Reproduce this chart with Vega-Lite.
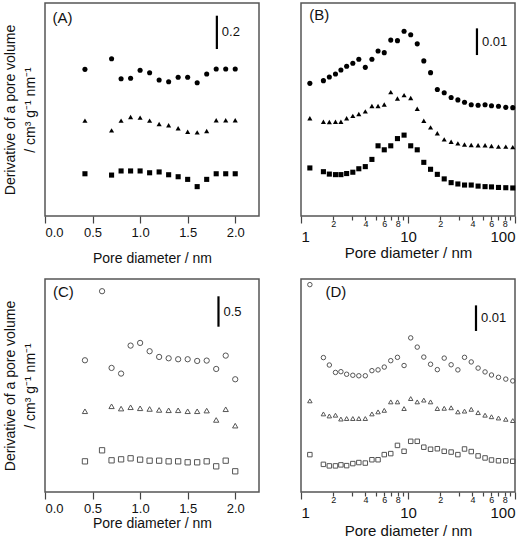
{
  "$schema": "https://vega.github.io/schema/vega-lite/v6.json",
  "background": "white",
  "autosize": {"type": "pad"},
  "padding": {"left": 2, "top": 2, "right": 4, "bottom": 2},
  "config": {
    "view": {"stroke": "#555", "strokeWidth": 1.5},
    "font": "Liberation Sans",
    "axis": {"domain": false, "grid": false, "tickColor": "#444", "tickWidth": 1.2, "labelColor": "#111", "titleColor": "#111", "labelFont": "Liberation Sans", "titleFont": "Liberation Sans", "titleFontWeight": "normal"},
    "text": {"font": "Liberation Sans", "color": "#111"}
  },
  "columns": 2,
  "spacing": {"row": 63, "column": 42},
  "bounds": "flush",
  "datasets": {
    "A": [
      {"x":0.42,"y":0.889,"s":"c"},{"x":0.7,"y":0.953,"s":"c"},{"x":0.8,"y":0.832,"s":"c"},{"x":0.9,"y":0.835,"s":"c"},{"x":1.0,"y":0.883,"s":"c"},{"x":1.1,"y":0.868,"s":"c"},{"x":1.2,"y":0.824,"s":"c"},{"x":1.3,"y":0.814,"s":"c"},{"x":1.4,"y":0.841,"s":"c"},{"x":1.5,"y":0.841,"s":"c"},{"x":1.6,"y":0.808,"s":"c"},{"x":1.7,"y":0.861,"s":"c"},{"x":1.8,"y":0.891,"s":"c"},{"x":1.9,"y":0.891,"s":"c"},{"x":2.0,"y":0.891,"s":"c"},
      {"x":0.42,"y":0.578,"s":"t"},{"x":0.7,"y":0.519,"s":"t"},{"x":0.8,"y":0.578,"s":"t"},{"x":0.9,"y":0.600,"s":"t"},{"x":1.0,"y":0.596,"s":"t"},{"x":1.1,"y":0.578,"s":"t"},{"x":1.2,"y":0.558,"s":"t"},{"x":1.3,"y":0.550,"s":"t"},{"x":1.4,"y":0.532,"s":"t"},{"x":1.5,"y":0.511,"s":"t"},{"x":1.6,"y":0.507,"s":"t"},{"x":1.7,"y":0.515,"s":"t"},{"x":1.8,"y":0.580,"s":"t"},{"x":1.9,"y":0.580,"s":"t"},{"x":2.0,"y":0.580,"s":"t"},
      {"x":0.42,"y":0.256,"s":"q"},{"x":0.7,"y":0.248,"s":"q"},{"x":0.8,"y":0.273,"s":"q"},{"x":0.9,"y":0.273,"s":"q"},{"x":1.0,"y":0.273,"s":"q"},{"x":1.1,"y":0.262,"s":"q"},{"x":1.2,"y":0.267,"s":"q"},{"x":1.3,"y":0.250,"s":"q"},{"x":1.4,"y":0.238,"s":"q"},{"x":1.5,"y":0.222,"s":"q"},{"x":1.6,"y":0.178,"s":"q"},{"x":1.7,"y":0.222,"s":"q"},{"x":1.8,"y":0.256,"s":"q"},{"x":1.9,"y":0.256,"s":"q"},{"x":2.0,"y":0.256,"s":"q"}
    ],
    "B": [
      {"x":1.21,"y":0.0497,"s":"c"},{"x":1.62,"y":0.0507,"s":"c"},{"x":1.84,"y":0.0521,"s":"c"},{"x":2.1,"y":0.0532,"s":"c"},{"x":2.36,"y":0.0547,"s":"c"},{"x":2.67,"y":0.0561,"s":"c"},{"x":3.05,"y":0.0572,"s":"c"},{"x":3.47,"y":0.0587,"s":"c"},{"x":3.99,"y":0.0557,"s":"c"},{"x":4.6,"y":0.0587,"s":"c"},{"x":5.25,"y":0.0618,"s":"c"},{"x":6.0,"y":0.0612,"s":"c"},{"x":6.9,"y":0.0659,"s":"c"},{"x":7.97,"y":0.0657,"s":"c"},{"x":9.19,"y":0.0692,"s":"c"},{"x":10.6,"y":0.0679,"s":"c"},{"x":12.2,"y":0.0645,"s":"c"},{"x":14.05,"y":0.0581,"s":"c"},{"x":16.25,"y":0.0537,"s":"c"},{"x":18.8,"y":0.0474,"s":"c"},{"x":21.8,"y":0.0462,"s":"c"},{"x":25.3,"y":0.0444,"s":"c"},{"x":29.25,"y":0.0435,"s":"c"},{"x":33.75,"y":0.0426,"s":"c"},{"x":39.0,"y":0.0417,"s":"c"},{"x":45.2,"y":0.0415,"s":"c"},{"x":52.5,"y":0.0417,"s":"c"},{"x":60.3,"y":0.0413,"s":"c"},{"x":70.1,"y":0.0411,"s":"c"},{"x":82.0,"y":0.0407,"s":"c"},{"x":95.3,"y":0.0406,"s":"c"},
      {"x":1.21,"y":0.0366,"s":"t"},{"x":1.62,"y":0.0353,"s":"t"},{"x":1.84,"y":0.0352,"s":"t"},{"x":2.1,"y":0.0353,"s":"t"},{"x":2.36,"y":0.0353,"s":"t"},{"x":2.67,"y":0.0366,"s":"t"},{"x":3.05,"y":0.0375,"s":"t"},{"x":3.47,"y":0.0382,"s":"t"},{"x":3.99,"y":0.0392,"s":"t"},{"x":4.6,"y":0.0412,"s":"t"},{"x":5.25,"y":0.0412,"s":"t"},{"x":6.0,"y":0.0418,"s":"t"},{"x":6.9,"y":0.0464,"s":"t"},{"x":7.97,"y":0.0440,"s":"t"},{"x":9.19,"y":0.0453,"s":"t"},{"x":10.6,"y":0.0442,"s":"t"},{"x":12.2,"y":0.0402,"s":"t"},{"x":14.05,"y":0.0357,"s":"t"},{"x":16.25,"y":0.0332,"s":"t"},{"x":18.8,"y":0.0310,"s":"t"},{"x":21.8,"y":0.0287,"s":"t"},{"x":25.3,"y":0.0278,"s":"t"},{"x":29.25,"y":0.0272,"s":"t"},{"x":33.75,"y":0.0268,"s":"t"},{"x":39.0,"y":0.0266,"s":"t"},{"x":45.2,"y":0.0265,"s":"t"},{"x":52.5,"y":0.0265,"s":"t"},{"x":60.3,"y":0.0262,"s":"t"},{"x":70.1,"y":0.0260,"s":"t"},{"x":82.0,"y":0.0260,"s":"t"},{"x":95.3,"y":0.0258,"s":"t"},
      {"x":1.21,"y":0.0180,"s":"q"},{"x":1.62,"y":0.0166,"s":"q"},{"x":1.84,"y":0.0157,"s":"q"},{"x":2.1,"y":0.0155,"s":"q"},{"x":2.36,"y":0.0155,"s":"q"},{"x":2.67,"y":0.0159,"s":"q"},{"x":3.05,"y":0.0164,"s":"q"},{"x":3.47,"y":0.0177,"s":"q"},{"x":3.99,"y":0.0185,"s":"q"},{"x":4.6,"y":0.0212,"s":"q"},{"x":5.25,"y":0.0263,"s":"q"},{"x":6.0,"y":0.0248,"s":"q"},{"x":6.9,"y":0.0263,"s":"q"},{"x":7.97,"y":0.0290,"s":"q"},{"x":9.19,"y":0.0303,"s":"q"},{"x":10.6,"y":0.0263,"s":"q"},{"x":12.2,"y":0.0248,"s":"q"},{"x":14.05,"y":0.0201,"s":"q"},{"x":16.25,"y":0.0175,"s":"q"},{"x":18.8,"y":0.0156,"s":"q"},{"x":21.8,"y":0.0139,"s":"q"},{"x":25.3,"y":0.0125,"s":"q"},{"x":29.25,"y":0.0120,"s":"q"},{"x":33.75,"y":0.0116,"s":"q"},{"x":39.0,"y":0.0116,"s":"q"},{"x":45.2,"y":0.0112,"s":"q"},{"x":52.5,"y":0.0110,"s":"q"},{"x":60.3,"y":0.0109,"s":"q"},{"x":70.1,"y":0.0107,"s":"q"},{"x":82.0,"y":0.0106,"s":"q"},{"x":95.3,"y":0.0105,"s":"q"}
    ],
    "C": [
      {"x":0.42,"y":2.170,"s":"c"},{"x":0.6,"y":3.308,"s":"c"},{"x":0.7,"y":2.044,"s":"c"},{"x":0.8,"y":1.951,"s":"c"},{"x":0.9,"y":2.412,"s":"c"},{"x":1.0,"y":2.456,"s":"c"},{"x":1.1,"y":2.319,"s":"c"},{"x":1.2,"y":2.225,"s":"c"},{"x":1.3,"y":2.203,"s":"c"},{"x":1.4,"y":2.187,"s":"c"},{"x":1.5,"y":2.187,"s":"c"},{"x":1.6,"y":2.159,"s":"c"},{"x":1.7,"y":2.165,"s":"c"},{"x":1.8,"y":2.027,"s":"c"},{"x":1.9,"y":2.247,"s":"c"},{"x":2.0,"y":1.857,"s":"c"},
      {"x":0.42,"y":1.330,"s":"t"},{"x":0.7,"y":1.412,"s":"t"},{"x":0.8,"y":1.374,"s":"t"},{"x":0.9,"y":1.396,"s":"t"},{"x":1.0,"y":1.379,"s":"t"},{"x":1.1,"y":1.368,"s":"t"},{"x":1.2,"y":1.352,"s":"t"},{"x":1.3,"y":1.346,"s":"t"},{"x":1.4,"y":1.346,"s":"t"},{"x":1.5,"y":1.330,"s":"t"},{"x":1.6,"y":1.330,"s":"t"},{"x":1.7,"y":1.341,"s":"t"},{"x":1.8,"y":1.187,"s":"t"},{"x":1.9,"y":1.363,"s":"t"},{"x":2.0,"y":1.093,"s":"t"},
      {"x":0.42,"y":0.505,"s":"q"},{"x":0.6,"y":0.687,"s":"q"},{"x":0.7,"y":0.522,"s":"q"},{"x":0.8,"y":0.538,"s":"q"},{"x":0.9,"y":0.555,"s":"q"},{"x":1.0,"y":0.533,"s":"q"},{"x":1.1,"y":0.516,"s":"q"},{"x":1.2,"y":0.516,"s":"q"},{"x":1.3,"y":0.505,"s":"q"},{"x":1.4,"y":0.505,"s":"q"},{"x":1.5,"y":0.489,"s":"q"},{"x":1.6,"y":0.489,"s":"q"},{"x":1.7,"y":0.505,"s":"q"},{"x":1.8,"y":0.423,"s":"q"},{"x":1.9,"y":0.516,"s":"q"},{"x":2.0,"y":0.341,"s":"q"}
    ],
    "D": [
      {"x":1.21,"y":0.0810,"s":"c"},{"x":1.62,"y":0.0525,"s":"c"},{"x":1.84,"y":0.0496,"s":"c"},{"x":2.1,"y":0.0467,"s":"c"},{"x":2.36,"y":0.0470,"s":"c"},{"x":2.67,"y":0.0460,"s":"c"},{"x":3.05,"y":0.0456,"s":"c"},{"x":3.47,"y":0.0454,"s":"c"},{"x":3.99,"y":0.0454,"s":"c"},{"x":4.6,"y":0.0474,"s":"c"},{"x":5.25,"y":0.0477,"s":"c"},{"x":6.0,"y":0.0488,"s":"c"},{"x":6.9,"y":0.0513,"s":"c"},{"x":7.97,"y":0.0526,"s":"c"},{"x":9.19,"y":0.0494,"s":"c"},{"x":10.6,"y":0.0602,"s":"c"},{"x":12.2,"y":0.0566,"s":"c"},{"x":14.05,"y":0.0527,"s":"c"},{"x":16.25,"y":0.0499,"s":"c"},{"x":18.8,"y":0.0478,"s":"c"},{"x":21.8,"y":0.0523,"s":"c"},{"x":25.3,"y":0.0497,"s":"c"},{"x":29.25,"y":0.0477,"s":"c"},{"x":33.75,"y":0.0526,"s":"c"},{"x":39.0,"y":0.0508,"s":"c"},{"x":45.2,"y":0.0484,"s":"c"},{"x":52.5,"y":0.0469,"s":"c"},{"x":60.3,"y":0.0457,"s":"c"},{"x":70.1,"y":0.0448,"s":"c"},{"x":82.0,"y":0.0441,"s":"c"},{"x":95.3,"y":0.0434,"s":"c"},
      {"x":1.21,"y":0.0356,"s":"t"},{"x":1.62,"y":0.0305,"s":"t"},{"x":1.84,"y":0.0297,"s":"t"},{"x":2.1,"y":0.0300,"s":"t"},{"x":2.36,"y":0.0285,"s":"t"},{"x":2.67,"y":0.0287,"s":"t"},{"x":3.05,"y":0.0287,"s":"t"},{"x":3.47,"y":0.0287,"s":"t"},{"x":3.99,"y":0.0287,"s":"t"},{"x":4.6,"y":0.0305,"s":"t"},{"x":5.25,"y":0.0313,"s":"t"},{"x":6.0,"y":0.0319,"s":"t"},{"x":6.9,"y":0.0352,"s":"t"},{"x":7.97,"y":0.0352,"s":"t"},{"x":9.19,"y":0.0326,"s":"t"},{"x":10.6,"y":0.0365,"s":"t"},{"x":12.2,"y":0.0352,"s":"t"},{"x":14.05,"y":0.0359,"s":"t"},{"x":16.25,"y":0.0352,"s":"t"},{"x":18.8,"y":0.0326,"s":"t"},{"x":21.8,"y":0.0327,"s":"t"},{"x":25.3,"y":0.0329,"s":"t"},{"x":29.25,"y":0.0313,"s":"t"},{"x":33.75,"y":0.0316,"s":"t"},{"x":39.0,"y":0.0323,"s":"t"},{"x":45.2,"y":0.0310,"s":"t"},{"x":52.5,"y":0.0300,"s":"t"},{"x":60.3,"y":0.0294,"s":"t"},{"x":70.1,"y":0.0289,"s":"t"},{"x":82.0,"y":0.0284,"s":"t"},{"x":95.3,"y":0.0279,"s":"t"},
      {"x":1.21,"y":0.0146,"s":"q"},{"x":1.62,"y":0.0108,"s":"q"},{"x":1.84,"y":0.0102,"s":"q"},{"x":2.1,"y":0.0102,"s":"q"},{"x":2.36,"y":0.0106,"s":"q"},{"x":2.67,"y":0.0103,"s":"q"},{"x":3.05,"y":0.0111,"s":"q"},{"x":3.47,"y":0.0115,"s":"q"},{"x":3.99,"y":0.0113,"s":"q"},{"x":4.6,"y":0.0126,"s":"q"},{"x":5.25,"y":0.0126,"s":"q"},{"x":6.0,"y":0.0146,"s":"q"},{"x":6.9,"y":0.0150,"s":"q"},{"x":7.97,"y":0.0182,"s":"q"},{"x":9.19,"y":0.0159,"s":"q"},{"x":10.6,"y":0.0198,"s":"q"},{"x":12.2,"y":0.0198,"s":"q"},{"x":14.05,"y":0.0175,"s":"q"},{"x":16.25,"y":0.0167,"s":"q"},{"x":18.8,"y":0.0169,"s":"q"},{"x":21.8,"y":0.0159,"s":"q"},{"x":25.3,"y":0.0156,"s":"q"},{"x":29.25,"y":0.0146,"s":"q"},{"x":33.75,"y":0.0168,"s":"q"},{"x":39.0,"y":0.0158,"s":"q"},{"x":45.2,"y":0.0141,"s":"q"},{"x":52.5,"y":0.0133,"s":"q"},{"x":60.3,"y":0.0125,"s":"q"},{"x":70.1,"y":0.0122,"s":"q"},{"x":82.0,"y":0.0122,"s":"q"},{"x":95.3,"y":0.0120,"s":"q"}
    ],
    "barA": [{"x":1.807,"y":1.012,"y2":1.214,"label":"0.2"}],
    "barB": [{"x":44.1,"y":0.0603,"y2":0.0703,"label":"0.01"}],
    "barC": [{"x":1.824,"y":2.723,"y2":3.224,"label":"0.5"}],
    "barD": [{"x":43.2,"y":0.0629,"y2":0.0729,"label":"0.01"}],
    "labA": [{"x":0.08,"y":1.2,"label":"(A)"}],
    "labB": [{"x":1.195,"y":0.0753,"label":"(B)"}],
    "labC": [{"x":0.084,"y":3.295,"label":"(C)"}],
    "labD": [{"x":1.69,"y":0.0781,"label":"(D)"}]
  },
  "concat": [
    {
      "width": 214, "height": 213,
      "layer": [
        {
          "data": {"name": "A"},
          "mark": {"type": "point", "filled": true, "size": 26, "color": "black", "opacity": 1},
          "encoding": {
            "x": {"field": "x", "type": "quantitative", "scale": {"domain": [0, 2.25], "nice": false, "zero": false},
              "axis": {"title": "Pore diameter / nm", "titleFontSize": 14, "titlePadding": 12, "values": [0,0.25,0.5,0.75,1,1.25,1.5,1.75,2,2.25], "labelExpr": "abs(datum.value*2-round(datum.value*2))<0.01 ? format(datum.value,'.1f') : ''", "labelFontSize": 13, "labelPadding": 3, "tickSize": {"condition": {"test": "abs(datum.value*2-round(datum.value*2))<0.01", "value": 7}, "value": 4}}},
            "y": {"field": "y", "type": "quantitative", "scale": {"domain": [0, 1.291], "nice": false, "zero": false},
              "axis": {"title": ["Derivative of a pore volume", "/ cm³ g⁻¹ nm⁻¹"], "titleFontSize": 14, "titleLineHeight": 20, "titlePadding": 8, "labels": false, "ticks": false, "domain": false}},
            "shape": {"field": "s", "type": "nominal", "scale": {"domain": ["c","t","q"], "range": ["circle","triangle-up","square"]}, "legend": null}
          }
        },
        {"data": {"name": "barA"}, "mark": {"type": "rule", "strokeWidth": 2.2, "color": "black"},
          "encoding": {"x": {"field": "x", "type": "quantitative"}, "y": {"field": "y", "type": "quantitative"}, "y2": {"field": "y2"}}},
        {"data": {"name": "barA"}, "transform": [{"calculate": "(datum.y+datum.y2)/2", "as": "ym"}], "mark": {"type": "text", "align": "left", "baseline": "middle", "dx": 5, "fontSize": 13},
          "encoding": {"x": {"field": "x", "type": "quantitative"}, "y": {"field": "ym", "type": "quantitative"}, "text": {"field": "label"}}},
        {"data": {"name": "labA"}, "mark": {"type": "text", "align": "left", "baseline": "middle", "fontSize": 15},
          "encoding": {"x": {"field": "x", "type": "quantitative"}, "y": {"field": "y", "type": "quantitative"}, "text": {"field": "label"}}}
      ]
    },
    {
      "width": 214, "height": 213,
      "layer": [
        {
          "data": {"name": "B"},
          "mark": {"type": "point", "filled": true, "size": 26, "color": "black", "opacity": 1},
          "encoding": {
            "x": {"field": "x", "type": "quantitative", "scale": {"type": "log", "domain": [1, 100], "nice": false},
              "axis": {"title": "Pore diameter / nm", "titleFontSize": 15, "titlePadding": 1, "values": [1,2,3,4,5,6,7,8,9,10,20,30,40,50,60,70,80,90,100],
                "labelExpr": "(datum.value==1||datum.value==10||datum.value==100) ? ''+datum.value : (indexof([2,4,6,8],datum.value)>=0 ? ''+datum.value : (indexof([20,40,60,80],datum.value)>=0 ? ''+(datum.value/10) : ''))",
                "labelFontSize": {"condition": {"test": "datum.value==1||datum.value==10||datum.value==100", "value": 15}, "value": 9},
                "labelBaseline": {"condition": {"test": "datum.value==1||datum.value==10||datum.value==100", "value": "top"}, "value": "alphabetic"},
                "labelPadding": 6,
                "tickSize": {"condition": {"test": "datum.value==1||datum.value==10||datum.value==100", "value": 7}, "value": 4}}},
            "y": {"field": "y", "type": "quantitative", "scale": {"domain": [0, 0.0798], "nice": false, "zero": false}, "axis": null},
            "shape": {"field": "s", "type": "nominal", "scale": {"domain": ["c","t","q"], "range": ["circle","triangle-up","square"]}, "legend": null}
          }
        },
        {"data": {"name": "barB"}, "mark": {"type": "rule", "strokeWidth": 2.2, "color": "black"},
          "encoding": {"x": {"field": "x", "type": "quantitative"}, "y": {"field": "y", "type": "quantitative"}, "y2": {"field": "y2"}}},
        {"data": {"name": "barB"}, "transform": [{"calculate": "(datum.y+datum.y2)/2", "as": "ym"}], "mark": {"type": "text", "align": "left", "baseline": "middle", "dx": 5, "fontSize": 13},
          "encoding": {"x": {"field": "x", "type": "quantitative"}, "y": {"field": "ym", "type": "quantitative"}, "text": {"field": "label"}}},
        {"data": {"name": "labB"}, "mark": {"type": "text", "align": "left", "baseline": "middle", "fontSize": 15},
          "encoding": {"x": {"field": "x", "type": "quantitative"}, "y": {"field": "y", "type": "quantitative"}, "text": {"field": "label"}}}
      ]
    },
    {
      "width": 214, "height": 213,
      "layer": [
        {
          "data": {"name": "C"},
          "mark": {"type": "point", "filled": false, "size": 28, "stroke": "#555", "strokeWidth": 1, "opacity": 1},
          "encoding": {
            "x": {"field": "x", "type": "quantitative", "scale": {"domain": [0, 2.25], "nice": false, "zero": false},
              "axis": {"title": "Pore diameter / nm", "titleFontSize": 14, "titlePadding": 1, "values": [0,0.25,0.5,0.75,1,1.25,1.5,1.75,2,2.25], "labelExpr": "abs(datum.value*2-round(datum.value*2))<0.01 ? format(datum.value,'.1f') : ''", "labelFontSize": 13, "labelPadding": 3, "tickSize": {"condition": {"test": "abs(datum.value*2-round(datum.value*2))<0.01", "value": 7}, "value": 4}}},
            "y": {"field": "y", "type": "quantitative", "scale": {"domain": [0, 3.509], "nice": false, "zero": false},
              "axis": {"title": ["Derivative of a pore volume", "/ cm³ g⁻¹ nm⁻¹"], "titleFontSize": 14, "titleLineHeight": 20, "titlePadding": 8, "labels": false, "ticks": false, "domain": false}},
            "shape": {"field": "s", "type": "nominal", "scale": {"domain": ["c","t","q"], "range": ["circle","triangle-up","square"]}, "legend": null}
          }
        },
        {"data": {"name": "barC"}, "mark": {"type": "rule", "strokeWidth": 2.2, "color": "black"},
          "encoding": {"x": {"field": "x", "type": "quantitative"}, "y": {"field": "y", "type": "quantitative"}, "y2": {"field": "y2"}}},
        {"data": {"name": "barC"}, "transform": [{"calculate": "(datum.y+datum.y2)/2", "as": "ym"}], "mark": {"type": "text", "align": "left", "baseline": "middle", "dx": 5, "fontSize": 13},
          "encoding": {"x": {"field": "x", "type": "quantitative"}, "y": {"field": "ym", "type": "quantitative"}, "text": {"field": "label"}}},
        {"data": {"name": "labC"}, "mark": {"type": "text", "align": "left", "baseline": "middle", "fontSize": 15},
          "encoding": {"x": {"field": "x", "type": "quantitative"}, "y": {"field": "y", "type": "quantitative"}, "text": {"field": "label"}}}
      ]
    },
    {
      "width": 214, "height": 213,
      "layer": [
        {
          "data": {"name": "D"},
          "mark": {"type": "point", "filled": false, "size": 20, "stroke": "#555", "strokeWidth": 1, "opacity": 1},
          "encoding": {
            "x": {"field": "x", "type": "quantitative", "scale": {"type": "log", "domain": [1, 100], "nice": false},
              "axis": {"title": "Pore diameter / nm", "titleFontSize": 15, "titlePadding": 3, "values": [1,2,3,4,5,6,7,8,9,10,20,30,40,50,60,70,80,90,100],
                "labelExpr": "(datum.value==1||datum.value==10||datum.value==100) ? ''+datum.value : (indexof([2,4,6,8],datum.value)>=0 ? ''+datum.value : (indexof([20,40,60,80],datum.value)>=0 ? ''+(datum.value/10) : ''))",
                "labelFontSize": {"condition": {"test": "datum.value==1||datum.value==10||datum.value==100", "value": 15}, "value": 9},
                "labelBaseline": {"condition": {"test": "datum.value==1||datum.value==10||datum.value==100", "value": "top"}, "value": "alphabetic"},
                "labelPadding": 6,
                "tickSize": {"condition": {"test": "datum.value==1||datum.value==10||datum.value==100", "value": 7}, "value": 4}}},
            "y": {"field": "y", "type": "quantitative", "scale": {"domain": [0, 0.0832], "nice": false, "zero": false}, "axis": null},
            "shape": {"field": "s", "type": "nominal", "scale": {"domain": ["c","t","q"], "range": ["circle","triangle-up","square"]}, "legend": null}
          }
        },
        {"data": {"name": "barD"}, "mark": {"type": "rule", "strokeWidth": 2.2, "color": "black"},
          "encoding": {"x": {"field": "x", "type": "quantitative"}, "y": {"field": "y", "type": "quantitative"}, "y2": {"field": "y2"}}},
        {"data": {"name": "barD"}, "transform": [{"calculate": "(datum.y+datum.y2)/2", "as": "ym"}], "mark": {"type": "text", "align": "left", "baseline": "middle", "dx": 5, "fontSize": 13},
          "encoding": {"x": {"field": "x", "type": "quantitative"}, "y": {"field": "ym", "type": "quantitative"}, "text": {"field": "label"}}},
        {"data": {"name": "labD"}, "mark": {"type": "text", "align": "left", "baseline": "middle", "fontSize": 15},
          "encoding": {"x": {"field": "x", "type": "quantitative"}, "y": {"field": "y", "type": "quantitative"}, "text": {"field": "label"}}}
      ]
    }
  ]
}
